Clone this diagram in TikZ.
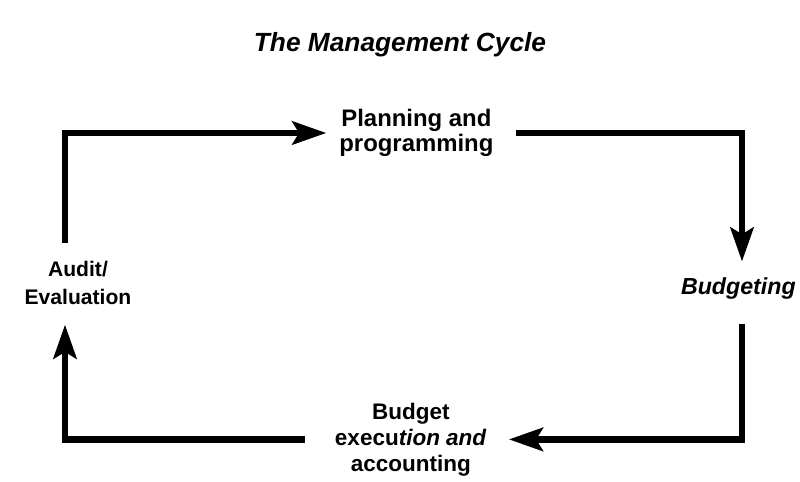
\documentclass[tikz,border=0pt]{standalone}
\usepackage{fontspec}
\setmainfont{Liberation Sans}
\usetikzlibrary{arrows.meta, positioning}

\begin{document}
\begin{tikzpicture}[>={Stealth[length=8.5mm,width=5.8mm,inset=1.7mm]},
        phase/.style={font=\fontsize{16}{18.5}\selectfont\bfseries, align=center, inner sep=0pt},
        cycle/.style={->, line width=4.5pt, line join=miter}]

      \useasboundingbox (0,0) rectangle (20,12.025);
      \node[font=\fontsize{18.7}{22}\selectfont\bfseries\itshape] (title) at (10,10.9) {The Management Cycle};

      \node[phase, font=\fontsize{17}{18}\selectfont\bfseries] (plan) at (10.41,8.7) {Planning and\\programming};
      \node[phase, font=\fontsize{16.5}{18}\selectfont\bfseries\itshape] (budget) at (18.46,4.81) {Budgeting};
      \node[phase] (exec) at (10.27,1.04) {Budget\\execu\textit{tion and}\\accounting};
      \node[phase, font=\fontsize{15}{20}\selectfont\bfseries] (audit) at (1.95,4.96) {Audit/\\Evaluation};

      % the cycle, clockwise
      \draw[cycle] ([xshift=-3.25mm,yshift=4.5mm]audit.north) |- ([xshift=-3.2mm]plan.west);
      \draw[cycle] ([xshift=5.6mm]plan.east) -| ([xshift=0.9mm,yshift=4mm]budget.north);
      \draw[cycle] ([xshift=0.9mm,yshift=-6mm]budget.south) |- ([xshift=5.5mm]exec.east);
      \draw[cycle] ([xshift=-7.5mm]exec.west) -| ([xshift=-3.25mm,yshift=-5mm]audit.south);
    \end{tikzpicture}
\end{document}
